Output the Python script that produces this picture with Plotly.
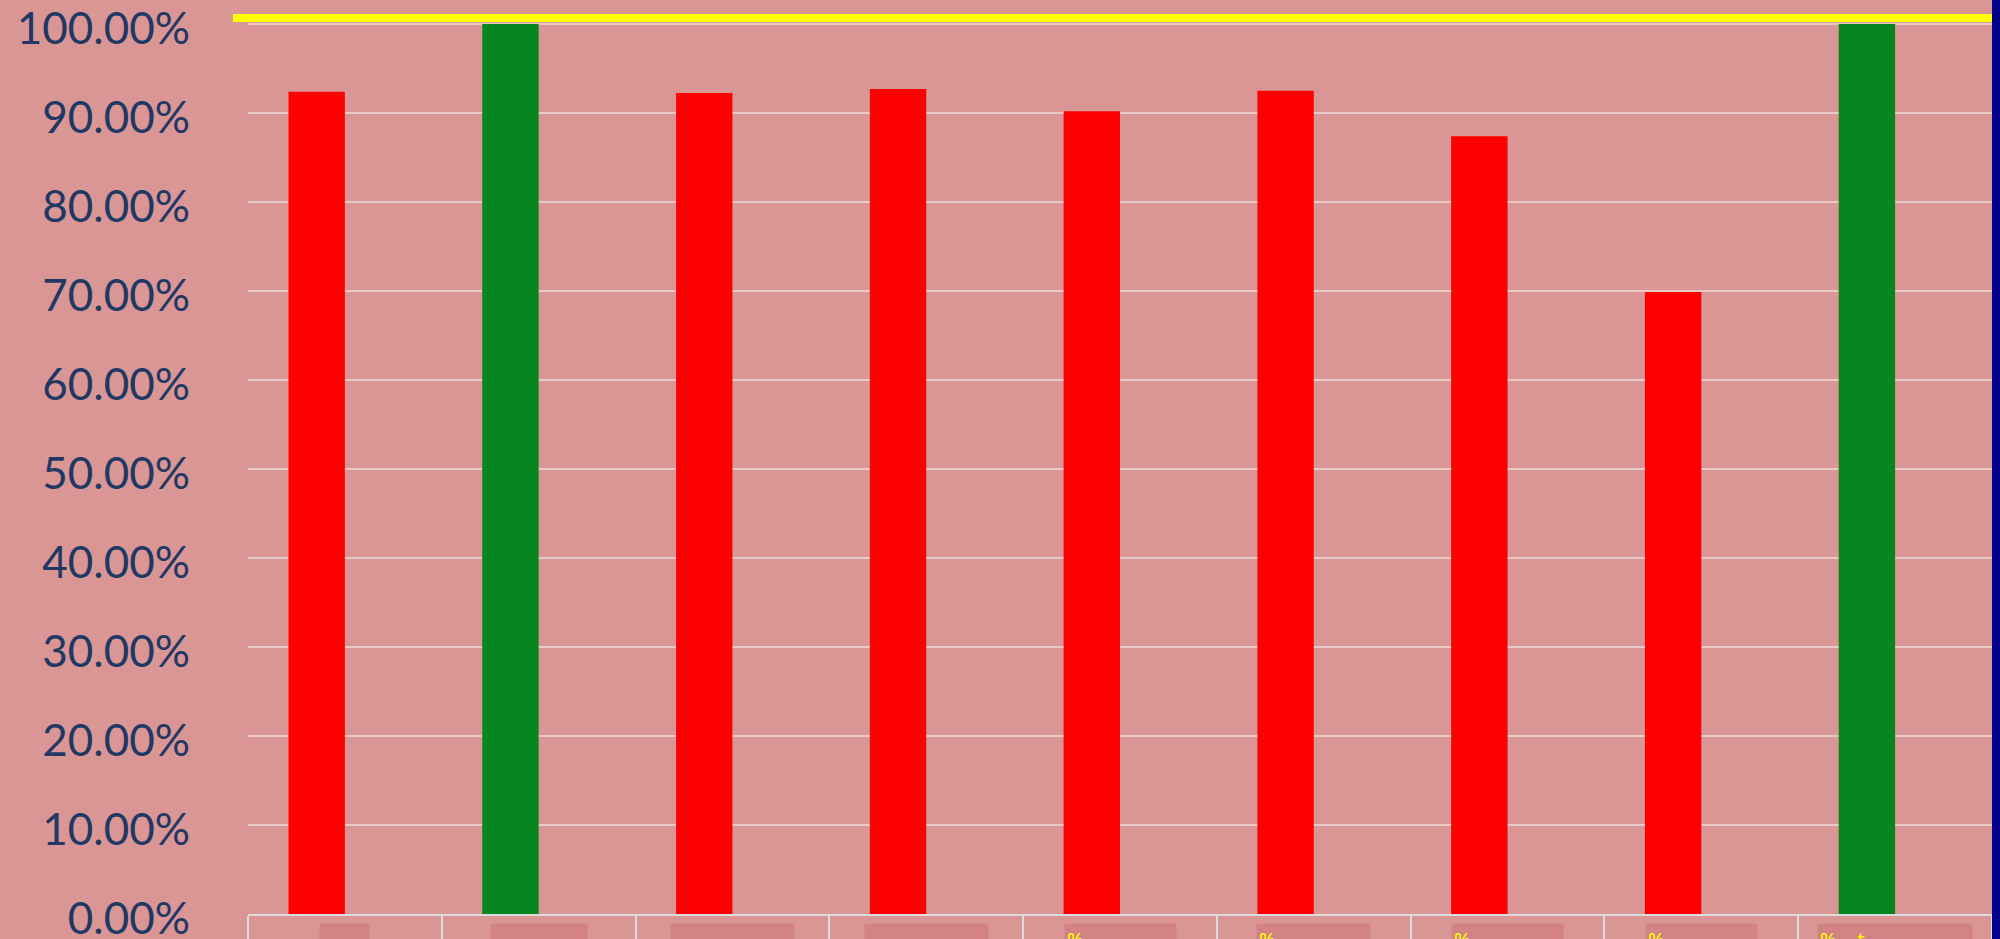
import plotly.graph_objects as go

# ---- data ----
categories = ["C1", "C2", "C3", "C4", "C5", "C6", "C7", "C8", "C9"]
rates = [0.924, 1.0, 0.9225, 0.927, 0.902, 0.925, 0.874, 0.699, 1.0]
target = 1.0067
label_texts = ["\u00a0<br>\u00a0<br>C1", "\u00a0<br>\u00a0<br>C2", "\u00a0<br>\u00a0<br>C3",
               "\u00a0<br>\u00a0<br>C4", "%", "%", "%", "%", "%    t"]
y_tick_values = [0, 0.1, 0.2, 0.3, 0.4, 0.5, 0.6, 0.7, 0.8, 0.9, 1.0]

# ---- styles ----
RED = "#ff0000"
GREEN = "#05861f"
BG = "#da9694"
BOX = "#d38383"
box_widths = [45, 92, 119, 119, 107, 109, 107, 107, 150]

bar_colors = [GREEN if v >= 1.0 else RED for v in rates]

fig = go.Figure()
fig.add_trace(go.Bar(
    x=categories, y=rates,
    marker=dict(color=bar_colors, line=dict(width=0)),
    width=0.291, offset=-0.291,
    hoverinfo="x+y",
))

fig.add_shape(type="line", xref="paper", yref="y",
              x0=-0.0086, x1=1.0, y0=target, y1=target,
              line=dict(color="#ffff00", width=8))

# dark blue strip on right edge
fig.add_shape(type="rect", xref="paper", yref="paper",
              x0=1.0, x1=1.02, y0=-0.1, y1=1.1,
              fillcolor="#00008b", line=dict(width=0), layer="above")

for cat, txt, w in zip(categories, label_texts, box_widths):
    fig.add_annotation(
        x=cat, xref="x", y=0, yref="paper", yanchor="top", yshift=-9,
        text=txt, showarrow=False, width=w, height=60,
        bgcolor=BOX, align="left", valign="top", borderpad=2,
        font=dict(family="Noto Sans", size=20, color="#ffff00"),
    )

fig.update_layout(
    width=2000, height=939,
    margin=dict(l=248, r=8, t=0, b=25, pad=0, autoexpand=False),
    paper_bgcolor=BG, plot_bgcolor=BG,
    showlegend=False,
    bargap=0.418,
    xaxis=dict(
        type="category", showticklabels=False, automargin=False,
        ticks="outside", tickson="boundaries", ticklen=40,
        tickcolor="#dcdcdc", tickwidth=1.5,
        showline=True, linecolor="#dcdcdc", linewidth=2,
        showgrid=False, zeroline=False,
    ),
    yaxis=dict(
        range=[0, 914 / 890], tickvals=y_tick_values, tickformat=".2%",
        automargin=False,
        showgrid=True, gridcolor="#e9c9c8", gridwidth=1.5,
        zeroline=False, showline=False, ticks="",
        ticklabelstandoff=57, ticklabelshift=5, ticklabeloverflow="allow",
        tickfont=dict(family="Lato", size=44, color="#1f3864"),
    ),
)

fig.write_html("out.html", config={"displayModeBar": False},
               post_script="document.body.style.margin='0';document.body.style.overflow='hidden';")
